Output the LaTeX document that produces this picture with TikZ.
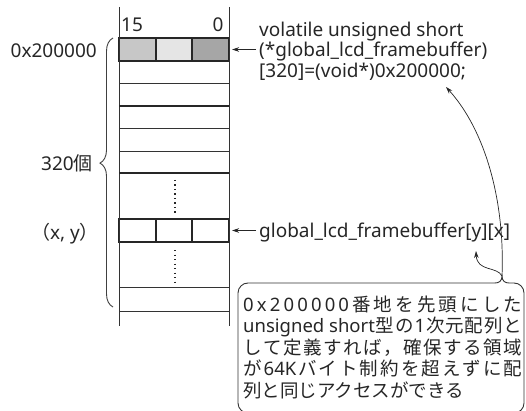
\documentclass[tikz,border=0pt]{standalone}
\usepackage{fontspec}
\setmainfont{Noto Sans}
\newfontfamily\jp{Noto Sans CJK JP}
\usetikzlibrary{arrows.meta,decorations.pathreplacing}
\newcommand\jsep{\hfill}
\begin{document}
\begin{tikzpicture}[x=1pt,y=-1pt,
  gridline/.style={draw=black!80, line width=0.9pt},
  thickline/.style={draw=black!85, line width=1.4pt},
  cell/.style={draw=black!85, line width=1.4pt, minimum height=23pt, inner sep=0pt, outer sep=0pt},
  lbl/.style={font=\fontsize{19}{21}\selectfont, text=black!85, inner sep=0pt},
  jtxt/.style={font=\fontsize{18.5}{21}\selectfont, text=black!85, inner sep=0pt, anchor=base west},
  arr/.style={draw=black!85, line width=0.7pt, -{Stealth[length=7pt,width=4.5pt]}},
  dotsline/.style={draw=black!85, line width=1.3pt, dash pattern=on 1.3pt off 3.2pt},
  boxline/.style={draw=black!80, line width=0.9pt}]
\useasboundingbox (0,0) rectangle (526,411);
% top row cells
\node[cell, fill=black!22, minimum width=37pt] (c1) at (137.5,49.5) {};
\node[cell, fill=black!10, minimum width=36pt] (c2) at (174,49.5) {};
\node[cell, fill=black!35, minimum width=37pt] (c3) at (210.5,49.5) {};
% (x,y) row cells
\node[cell, minimum width=37pt] (d1) at (137.5,230.5) {};
\node[cell, minimum width=36pt] (d2) at (174,230.5) {};
\node[cell, minimum width=37pt] (d3) at (210.5,230.5) {};
% column edges
\draw[gridline] (119,7) -- (119,326);
\draw[gridline] (229,7) -- (229,326);
% row lines
\foreach \yy in {83,128,151,287,311} \draw[gridline] (119,\yy) -- (229,\yy);
\foreach \yy in {106,173} \draw[thickline] (119,\yy) -- (229,\yy);
% dots
\draw[dotsline] (175,180) -- (175,213);
\draw[dotsline] (175,250) -- (175,282);
% bit labels
\node[lbl, anchor=base] (b15) at (132,32) {15};
\node[lbl, anchor=base] (b0) at (218,32) {0};
% left labels
\node[lbl, anchor=base east] (addr) at (97,58) {0x200000};
\node[lbl, anchor=base east] (cnt) at (93,171) {320{\jp 個}};
\node[lbl, anchor=base east] (xy) at (99,239) {{\jp （}x, y{\jp ）}};
% brace
\draw[draw=black!75, line width=0.9pt, decorate, decoration={brace, amplitude=13pt, aspect=0.535}] (113,307) -- (113,38);
% declaration
\node[lbl, anchor=base west] (decl1) at (259,36.5) {volatile unsigned short};
\node[lbl, anchor=base west] (decl2) at (259,57) {(*global\_lcd\_framebuffer)};
\node[lbl, anchor=base west] (decl3) at (259,78) {[320]=(void*)0x200000;};
\node[lbl, anchor=base west] (glob) at (259,237) {global\_lcd\_framebuffer[y][x]};
\draw[arr, shorten <=3pt, shorten >=3pt] (decl2.west |- c3.east) -- (c3.east);
\draw[arr, shorten <=3pt, shorten >=3pt] (glob.west |- d3.east) -- (d3.east);
% callout box
\coordinate (cusp) at (502,276);
\coordinate (tipA) at (446,87);
\coordinate (tipB) at (476,251);
\draw[boxline, rounded corners=10pt] (509,283) -- (524,283) -- (524,413) -- (238,413) -- (238,283) -- (495,283);
\draw[boxline] (495,283) .. controls (499,283) and (502,281) .. (cusp) .. controls (502,281) and (505,283) .. (509,283);
\draw[arr] (cusp) .. controls (505,200) and (485,130) .. (tipA);
\draw[arr] (cusp) .. controls (497,266) and (477,272) .. (tipB);
% callout text
\node[jtxt] (n1) at (243,311) {\makebox[279pt][l]{0\jsep x\jsep 2\jsep 0\jsep 0\jsep 0\jsep 0\jsep 0\jsep\jp 番\jsep 地\jsep を\jsep 先\jsep 頭\jsep に\jsep し\jsep た}};
\node[jtxt] (n2) at (243,332) {\makebox[279pt][l]{unsigned short\jsep{\jp 型}\jsep{\jp の}\jsep 1\jsep{\jp 次}\jsep{\jp 元}\jsep{\jp 配}\jsep{\jp 列}\jsep{\jp と}}};
\node[jtxt] (n3) at (243,354) {\makebox[279pt][l]{\jp し\jsep て\jsep 定\jsep 義\jsep す\jsep れ\jsep ば\jsep ，\jsep 確\jsep 保\jsep す\jsep る\jsep 領\jsep 域}};
\node[jtxt] (n4) at (243,375) {\makebox[279pt][l]{{\jp が}\jsep 64K\jsep{\jp バ}\jsep{\jp イ}\jsep{\jp ト}\jsep{\jp 制}\jsep{\jp 約}\jsep{\jp を}\jsep{\jp 超}\jsep{\jp え}\jsep{\jp ず}\jsep{\jp に}\jsep{\jp 配}}};
\node[jtxt] (n5) at (243,397) {\jp 列と同じアクセスができる};
\end{tikzpicture}
\end{document}
